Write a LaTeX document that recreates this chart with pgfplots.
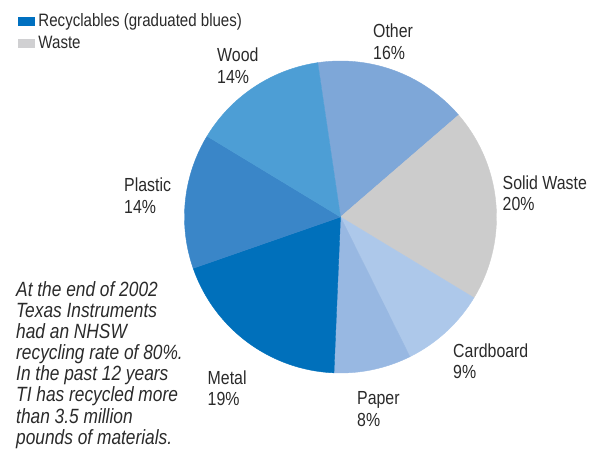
\documentclass[border=0pt]{standalone}
\usepackage{pgfplots}
\pgfplotsset{compat=1.18}
\usepackage{fontspec}
\setmainfont{Liberation Sans}[FakeStretch=0.84]
\definecolor{cOther}{HTML}{7EA7D8}
\definecolor{cSolid}{HTML}{CCCCCC}
\definecolor{cCard}{HTML}{ADC8EA}
\definecolor{cPaper}{HTML}{98B8E2}
\definecolor{cMetal}{HTML}{0070BB}
\definecolor{cPlastic}{HTML}{3A86C8}
\definecolor{cWood}{HTML}{4D9ED5}
\definecolor{cLegBlue}{HTML}{0070C0}
\definecolor{cLegGray}{HTML}{D0D0D2}
\definecolor{txt}{HTML}{2A2A2A}
% pie centre and radius (picture units = pixels)
\def\cx{340.5}\def\cy{235}\def\rr{156}
\newcommand{\slice}[2]{% colour, percent
  \pgfmathsetmacro{\angB}{\angA-3.6*#2}%
  \edef\temp{\noexpand\addplot[fill=#1, draw=#1, line width=0.4pt, domain=\angB:\angA, samples=80, variable=\noexpand\t, forget plot]
    ({\cx+\rr*cos(\noexpand\t)},{\cy+\rr*sin(\noexpand\t)}) -- (axis cs:\cx,\cy) -- cycle;}%
  \temp
  \global\let\angA\angB
}
\begin{document}
\begin{tikzpicture}
\global\def\angA{98.4}
\begin{axis}[width=606bp, height=452bp, scale only axis,
  xmin=0, xmax=606, ymin=0, ymax=452, hide axis, clip=false,
  legend style={at={(axis cs:18,441.5)}, anchor=north west, draw=none, fill=none,
    font=\fontsize{18}{21.3}\selectfont, text=txt, inner sep=0pt, outer sep=0pt,
    row sep=1.2pt, nodes={inner sep=3.5pt}},
  legend cell align=left,
  legend image code/.code={\fill[#1, draw=none] (0bp,-4.5bp) rectangle (17bp,4.5bp);}]
\addlegendimage{fill=cLegBlue, draw=none}
\addlegendentry{Recyclables (graduated blues)}
\addlegendimage{fill=cLegGray, draw=none}
\addlegendentry{Waste}
% slices, clockwise from the top: percentages
\slice{cOther}{16}
\slice{cSolid}{20}
\slice{cCard}{9}
\slice{cPaper}{8}
\slice{cMetal}{19}
\slice{cPlastic}{14}
\slice{cWood}{14}
\path (axis cs:0,0) rectangle (axis cs:606,452);
\begin{scope}[every node/.style={anchor=base west, inner sep=0pt, text=txt, font=\fontsize{19}{21.7}\selectfont}]
\node at (axis cs:373,414.7) {Other};
\node at (axis cs:373,392.7) {16\%};
\node at (axis cs:217,390.3) {Wood};
\node at (axis cs:217,368.7) {14\%};
\node at (axis cs:124,260.3) {Plastic};
\node at (axis cs:124,238.7) {14\%};
\node at (axis cs:502.5,262.7) {Solid Waste};
\node at (axis cs:502.5,241.5) {20\%};
\node at (axis cs:453,94.3) {Cardboard};
\node at (axis cs:453,73.5) {9\%};
\node at (axis cs:357,47) {Paper};
\node at (axis cs:357,25.3) {8\%};
\node at (axis cs:207.5,67.7) {Metal};
\node at (axis cs:207.5,46.5) {19\%};
\end{scope}
\begin{scope}[every node/.style={anchor=base west, inner sep=0pt, text=txt, font=\fontsize{20.7}{21}\selectfont\itshape}]
\node at (axis cs:16,155.3) {At the end of 2002};
\node at (axis cs:16,134.3) {Texas Instruments};
\node at (axis cs:16,113.2) {had an NHSW};
\node at (axis cs:16,92.2) {recycling rate of 80\%.};
\node at (axis cs:16,71.1) {In the past 12 years};
\node at (axis cs:16,50.1) {TI has recycled more};
\node at (axis cs:16,29.0) {than 3.5 million};
\node at (axis cs:16,8.0) {pounds of materials.};
\end{scope}
\end{axis}
\end{tikzpicture}
\end{document}
